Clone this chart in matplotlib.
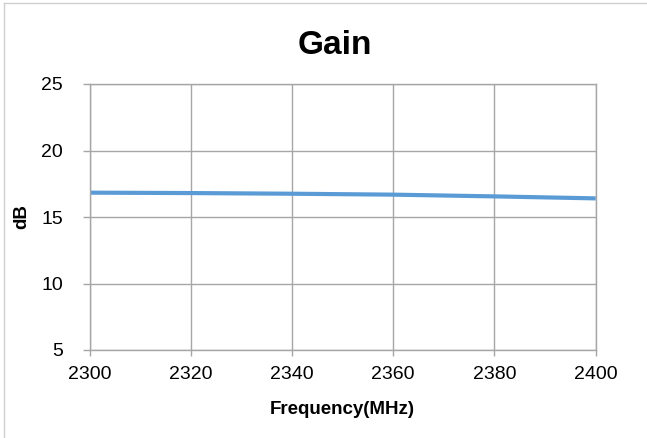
import matplotlib.pyplot as plt
from matplotlib.lines import Line2D

# data
freq = [2300, 2320, 2340, 2360, 2380, 2400]
gain_db = [16.83, 16.8, 16.75, 16.68, 16.55, 16.4]
xticks = [2300, 2320, 2340, 2360, 2380, 2400]
yticks = [5, 10, 15, 20, 25]

plt.rcParams['font.family'] = ['Liberation Sans', 'DejaVu Sans']

grid_c = "#a6a6a6"
line_c = "#5b9bd5"
W, H = 647, 438

fig = plt.figure(figsize=(W / 100, H / 100), dpi=100)
ax = fig.add_axes([89.5 / W, 1 - 350 / H, (595.7 - 89.5) / W, (350 - 84) / H])

ax.plot(freq, gain_db, color=line_c, linewidth=3.0, solid_capstyle="butt")

ax.set_xlim(2300, 2400)
ax.set_ylim(5, 25)
ax.set_xticks(xticks)
ax.set_yticks(yticks)
ax.tick_params(axis="both", labelsize=14, color=grid_c, width=1, direction="out")
ax.tick_params(axis="x", length=4.5, pad=7)
ax.tick_params(axis="y", length=5, pad=14)
ax.grid(True, color=grid_c, linewidth=1)
ax.set_axisbelow(True)
for s in ax.spines.values():
    s.set_color(grid_c)
    s.set_linewidth(1)

# titles / axis labels (Excel-like placement)
fig.text(335 / W, 1 - 45 / H, "Gain", fontsize=24, fontweight="bold", ha="center", va="center")
fig.text(342 / W, 1 - 409 / H, "Frequency(MHz)", fontsize=13.5, fontweight="bold", ha="center", va="center")
fig.text(22 / W, 1 - 217 / H, "dB", fontsize=13.5, fontweight="bold", ha="center", va="center", rotation=90)

# chart outer border (left and top visible)
fig.add_artist(Line2D([4 / W, 4 / W], [0, 1 - 2.5 / H], transform=fig.transFigure, color="#d0d0d0", linewidth=1))
fig.add_artist(Line2D([4 / W, 1], [1 - 2.5 / H, 1 - 2.5 / H], transform=fig.transFigure, color="#d0d0d0", linewidth=1))

plt.savefig("out.png", dpi=100)
